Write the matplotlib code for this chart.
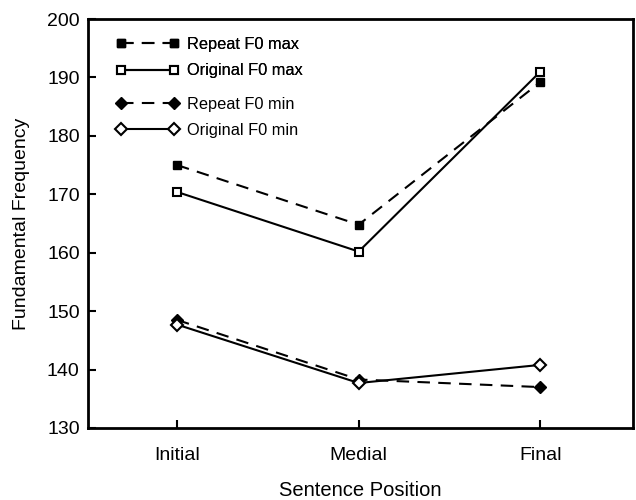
import matplotlib
matplotlib.use("Agg")
import matplotlib.pyplot as plt
from matplotlib.legend import Legend

plt.rcParams['font.family'] = ['Liberation Sans', 'DejaVu Sans']

positions = ["Initial", "Medial", "Final"]
repeat_max = [175.0, 164.8, 189.2]
original_max = [170.4, 160.2, 191.0]
repeat_min = [148.5, 138.3, 137.0]
original_min = [147.7, 137.7, 140.8]
yticks = [130, 140, 150, 160, 170, 180, 190, 200]

fig = plt.figure(figsize=(6.36, 5.0), dpi=100)
ax = fig.add_axes([88/636, 1-428/500, (633-88)/636, (428-19)/500])

x = list(range(len(positions)))
dash = (0, (6, 4))
lw = 1.5
ax.plot(x, repeat_max, color='black', lw=lw, linestyle=dash, marker='s', ms=6,
        mfc='black', mec='black', label='Repeat F0 max')
ax.plot(x, original_max, color='black', lw=lw, linestyle='-', marker='s', ms=6,
        mfc='white', mec='black', mew=1.5, label='Original F0 max')
ax.plot(x, repeat_min, color='black', lw=lw, linestyle=dash, marker='D', ms=6,
        mfc='black', mec='black', label='Repeat F0 min')
ax.plot(x, original_min, color='black', lw=lw, linestyle='-', marker='D', ms=6,
        mfc='white', mec='black', mew=1.5, label='Original F0 min')
h1, h2, h3, h4 = ax.get_lines()

ax.set_xlim(-0.49, 2.51)
ax.set_ylim(130, 200)
ax.set_yticks(yticks)
ax.set_xticks(x)
ax.set_xticklabels(positions)
ax.tick_params(direction='in', length=6, width=1.5, labelsize=14)
ax.tick_params(axis='x', pad=14)
ax.tick_params(axis='y', pad=6)
for s in ax.spines.values():
    s.set_linewidth(2)

ax.set_ylabel('Fundamental Frequency', fontsize=14, labelpad=12)
ax.set_xlabel('Sentence Position', fontsize=14.5, labelpad=12)

kw = dict(loc='upper left', frameon=False, fontsize=11.8, numpoints=2, handlelength=3.8,
          handletextpad=0.5, labelspacing=0.7, borderaxespad=0, markerscale=0.95)
leg1 = ax.legend(handles=[h1, h2], bbox_to_anchor=(0.04, 0.972), **kw)
ax.add_artist(leg1)
leg2 = Legend(ax, [h3, h4], ['Repeat F0 min', 'Original F0 min'],
              bbox_to_anchor=(0.04, 0.826), **kw)
ax.add_artist(leg2)

fig.savefig('out.png', dpi=100)
